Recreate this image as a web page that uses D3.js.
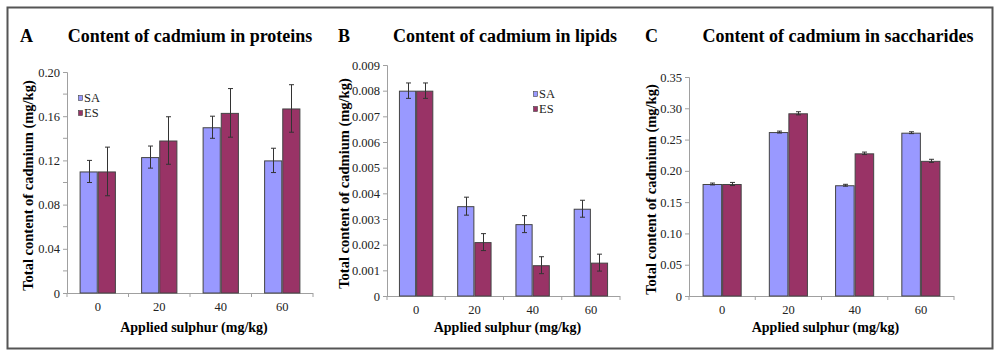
<!DOCTYPE html>
<html><head><meta charset="utf-8">
<script src="https://cdn.jsdelivr.net/npm/d3@7/dist/d3.min.js"></script>
<style>body{margin:0;background:#fff}svg{display:block}</style>
</head><body>
<svg id="c" width="1000" height="358"></svg>
<script>
const categories = ["0","20","40","60"];
const seriesNames = ["SA","ES"];

// Panel A: proteins
const saProteins = [0.110, 0.123, 0.150, 0.120];
const esProteins = [0.110, 0.138, 0.163, 0.167];
const saProteinsErr = [0.010, 0.010, 0.010, 0.011];
const esProteinsErr = [0.022, 0.0215, 0.022, 0.0215];
const ticksProteins = [0, 0.04, 0.08, 0.12, 0.16, 0.20];
const tickLabelsProteins = ["0","0.04","0.08","0.12","0.16","0.20"];
const minorTicksProteins = [0.02, 0.06, 0.10, 0.14, 0.18];

// Panel B: lipids
const saLipids = [0.0080, 0.0035, 0.0028, 0.0034];
const esLipids = [0.0080, 0.0021, 0.0012, 0.0013];
const saLipidsErr = [0.0003, 0.00035, 0.00033, 0.00033];
const esLipidsErr = [0.0003, 0.00033, 0.00033, 0.00033];
const ticksLipids = [0, 0.001, 0.002, 0.003, 0.004, 0.005, 0.006, 0.007, 0.008, 0.009];
const tickLabelsLipids = ["0","0.001","0.002","0.003","0.004","0.005","0.006","0.007","0.008","0.009"];

// Panel C: saccharides
const saSacch = [0.179, 0.262, 0.177, 0.261];
const esSacch = [0.179, 0.292, 0.228, 0.216];
const saSacchErr = [0.0015, 0.0015, 0.0015, 0.0015];
const esSacchErr = [0.0025, 0.0025, 0.002, 0.0025];
const ticksSacch = [0, 0.05, 0.10, 0.15, 0.20, 0.25, 0.30, 0.35];
const tickLabelsSacch = ["0","0.05","0.10","0.15","0.20","0.25","0.30","0.35"];

const colors = {SA: "#9999FF", ES: "#993366"};
const yTitle = "Total content of cadmium (mg/kg)";
const xTitle = "Applied sulphur (mg/kg)";

const panels = [
  {letter:"A", title:"Content of cadmium in proteins", sa:saProteins, es:esProteins, saE:saProteinsErr, esE:esProteinsErr,
   ticks:ticksProteins, labels:tickLabelsProteins, minor:minorTicksProteins, max:0.20,
   left:67, right:313, top:72, bottom:293, letterX:20, titleX:190, yTitleX:28, legend:{x:78, y:98}},
  {letter:"B", title:"Content of cadmium in lipids", sa:saLipids, es:esLipids, saE:saLipidsErr, esE:esLipidsErr,
   ticks:ticksLipids, labels:tickLabelsLipids, minor:[], max:0.009,
   left:387, right:620, top:65, bottom:296, letterX:338, titleX:505, yTitleX:344, legend:{x:533, y:94}},
  {letter:"C", title:"Content of cadmium in saccharides", sa:saSacch, es:esSacch, saE:saSacchErr, esE:esSacchErr,
   ticks:ticksSacch, labels:tickLabelsSacch, minor:[], max:0.35,
   left:689, right:954, top:77, bottom:296, letterX:645, titleX:838, yTitleX:651, legend:null}
];

const svg = d3.select("#c");
svg.append("rect").attr("x",7.5).attr("y",7.5).attr("width",985).attr("height",341)
  .attr("fill","none").attr("stroke","#555").attr("stroke-width",2);

const serif = "'Liberation Serif','Times New Roman',serif";
const axisColor = "#a0a0a0";

panels.forEach(p => {
  const g = svg.append("g");
  const x = d3.scaleBand().domain(categories).range([p.left, p.right]).padding(0);
  const groupW = x.bandwidth() * 0.59;
  const xs = d3.scaleBand().domain(seriesNames).range([0, groupW]);
  const y = d3.scaleLinear().domain([0, p.max]).range([p.bottom, p.top]);

  // letter and title
  g.append("text").attr("x", p.letterX).attr("y", 42).text(p.letter)
    .attr("font-family", serif).attr("font-weight","bold").attr("font-size",18);
  g.append("text").attr("x", p.titleX).attr("y", 42).attr("text-anchor","middle").text(p.title)
    .attr("font-family", serif).attr("font-weight","bold").attr("font-size",18);

  // y axis
  const yAxis = d3.axisLeft(y).tickValues(p.ticks).tickSize(4).tickPadding(3)
    .tickFormat((d,i) => p.labels[i]);
  const ya = g.append("g").attr("transform",`translate(${p.left},0)`).call(yAxis);
  ya.select(".domain").attr("stroke", axisColor);
  ya.selectAll(".tick line").attr("stroke", axisColor);
  ya.selectAll("text").attr("font-family", serif).attr("font-size",12.5).attr("fill","#222");
  g.selectAll(".minor").data(p.minor).join("line")
    .attr("x1", p.left-4).attr("x2", p.left).attr("y1", d=>y(d)).attr("y2", d=>y(d))
    .attr("stroke", axisColor);

  // x axis
  g.append("line").attr("x1",p.left).attr("x2",p.right).attr("y1",p.bottom+0.5).attr("y2",p.bottom+0.5)
    .attr("stroke", axisColor);
  const bounds = categories.map(c => x(c)).concat([x(categories[categories.length-1]) + x.step()]);
  g.selectAll(".xt").data(bounds).join("line")
    .attr("x1", d=>d).attr("x2", d=>d).attr("y1", p.bottom).attr("y2", p.bottom+4)
    .attr("stroke", axisColor);
  g.selectAll(".xl").data(categories).join("text")
    .attr("x", d => x(d) + x.bandwidth()/2).attr("y", p.bottom + 18)
    .attr("text-anchor","middle").text(d=>d)
    .attr("font-family", serif).attr("font-size",12.5).attr("fill","#222");

  // axis titles
  g.append("text").attr("x", (p.left+p.right)/2 + 4).attr("y", 332).attr("text-anchor","middle")
    .text(xTitle).attr("font-family", serif).attr("font-weight","bold").attr("font-size",14);
  g.append("text").attr("transform", `translate(${p.yTitleX},${(p.top+p.bottom)/2 + 3}) rotate(-90)`)
    .attr("text-anchor","middle").attr("dy","0.35em")
    .text(yTitle).attr("font-family", serif).attr("font-weight","bold").attr("font-size",14.5);

  // bars
  const rows = [];
  categories.forEach((c,i) => {
    rows.push({c, s:"SA", v:p.sa[i], e:p.saE[i]});
    rows.push({c, s:"ES", v:p.es[i], e:p.esE[i]});
  });
  const bx = d => x(d.c) + (x.bandwidth()-groupW)/2 + xs(d.s);
  g.selectAll(".bar").data(rows).join("rect")
    .attr("x", d => bx(d)+0.5).attr("y", d => y(d.v)+0.5)
    .attr("width", xs.bandwidth()-1).attr("height", d => p.bottom - y(d.v) - 0.5)
    .attr("fill", d => colors[d.s]).attr("stroke","#444").attr("stroke-width",1);

  // error bars
  const cx = d => Math.round(bx(d) + xs.bandwidth()/2) + 0.5;
  const eg = g.selectAll(".err").data(rows).join("g").attr("stroke","#333").attr("stroke-width",1);
  eg.append("line").attr("x1",cx).attr("x2",cx).attr("y1",d=>y(d.v+d.e)).attr("y2",d=>y(d.v-d.e));
  eg.append("line").attr("x1",d=>cx(d)-2.5).attr("x2",d=>cx(d)+2.5).attr("y1",d=>y(d.v+d.e)).attr("y2",d=>y(d.v+d.e));
  eg.append("line").attr("x1",d=>cx(d)-2.5).attr("x2",d=>cx(d)+2.5).attr("y1",d=>y(d.v-d.e)).attr("y2",d=>y(d.v-d.e));

  // legend
  if (p.legend) {
    const lg = g.append("g").attr("transform", `translate(${p.legend.x},${p.legend.y})`);
    seriesNames.forEach((s,i) => {
      lg.append("rect").attr("x",0.5).attr("y", i*15 - 2.5).attr("width",4).attr("height",5)
        .attr("fill", colors[s]).attr("stroke","#444").attr("stroke-width",0.6);
      lg.append("text").attr("x",6).attr("y", i*15).attr("dy","0.35em").text(s)
        .attr("font-family", serif).attr("font-size",12.5).attr("fill","#222");
    });
  }
});
</script>
</body></html>
